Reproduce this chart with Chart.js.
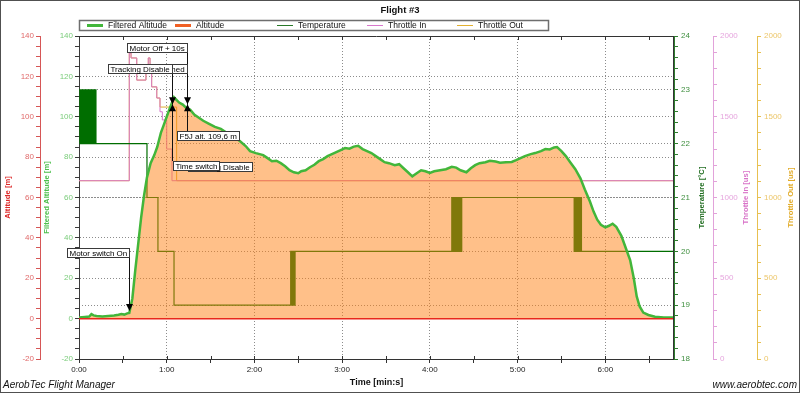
<!DOCTYPE html>
<html>
<head>
<meta charset="utf-8">
<title>Flight #3</title>
<script src="https://cdn.jsdelivr.net/npm/chart.js@4.4.1/dist/chart.umd.min.js"></script>
<style>
  html, body { margin: 0; padding: 0; background: #fff; }
</style>
</head>
<body>
<canvas id="flightChart" width="800" height="393"></canvas>
<script>
// ---- flight log data (time in seconds) ----
const faltTimes = [0, 4, 7, 8.5, 10, 12, 16, 20, 24, 27, 29, 31, 33, 34.4, 36.5, 38.5, 40.5, 42.5, 44.5, 46.5,
  49, 51.5, 53.5, 56, 58, 60, 62, 63.6, 65, 66.5, 68.5, 71, 73.9, 76, 79, 82, 85, 89, 93, 97,
  101, 105, 110, 114, 117, 121, 126, 129, 132, 135, 138, 141, 144, 147, 150, 152, 155, 158, 161, 164,
  167, 170, 173, 176, 179, 182, 185, 188, 191, 194, 197, 200, 203, 206, 209, 212, 216, 219, 222, 225,
  228, 231, 234, 237, 240, 243, 247, 251, 255, 258, 261, 265, 268, 271, 274, 278, 281, 285, 288, 292,
  296, 299, 302, 305, 309, 312, 316, 319, 322, 325, 327, 330, 333, 336, 339.5, 343, 346, 349.5, 352, 354.5,
  357, 360, 362.5, 365, 367.5, 371, 374, 377, 379.5, 381.5, 383.5, 386, 389.5, 394, 400, 407];
const faltValues = [0.5, 0.8, 1.0, 2.2, 1.6, 1.3, 1.1, 1.3, 1.5, 1.9, 2.3, 2.0, 2.6, 2.8, 10, 24, 37, 50, 61, 70,
  77, 81, 85, 92, 96, 100, 104, 107, 109.6, 108.5, 107, 106, 104, 103.5, 101, 99.5, 98, 96.5, 95, 94,
  92, 90.5, 88, 85.5, 83, 82, 81, 79.5, 78, 78.2, 77, 75.5, 73.5, 72.5, 72, 73, 73.5, 75, 76.2, 78,
  79, 80.5, 81.5, 82.5, 83.5, 84.5, 84.2, 85.2, 85.6, 84, 83, 82, 80.5, 79, 77.5, 77, 76, 76.5, 74.5, 72.5,
  70.5, 72, 73.5, 73, 72.2, 73, 73.5, 74, 75.2, 74.8, 73.5, 72.5, 74.5, 76, 77, 77.5, 78.2, 77.8, 77.2, 77.5,
  77.6, 78.5, 79.5, 80.5, 81.5, 82, 83, 84, 83.8, 84.8, 85, 83, 80.5, 77.5, 74, 69.5, 64, 58, 53, 49,
  46.5, 45.2, 46, 47, 45.5, 41, 35, 29, 20, 11, 6, 3, 1.8, 0.9, 0.6, 0.5];

const altTimes = [0, 407];
const altValues = [0, 0];

const tempTimes = [0, 0.6, 1.1, 1.7, 2.2, 2.8, 3.3, 3.9, 4.4, 5.0, 5.5, 6.1, 6.6, 7.2, 7.7, 8.3, 8.8, 9.4, 9.9, 10.5, 11.0, 11.6,
  46.5, 54, 65,
  144.8, 145.3, 145.8, 146.3, 146.8, 147.3, 147.8, 148.2,
  255, 255.5, 256, 256.5, 257, 257.5, 258, 258.5, 259, 259.5, 260, 260.5, 261, 261.4, 261.8,
  338.7, 339.2, 339.7, 340.2, 340.7, 341.2, 341.7, 342.2, 342.7, 343.2, 343.7, 344.2,
  407];
const tempValues = [23, 22, 23, 22, 23, 22, 23, 22, 23, 22, 23, 22, 23, 22, 23, 22, 23, 22, 23, 22, 23, 22,
  21, 20, 19,
  20, 19, 20, 19, 20, 19, 20, 20,
  21, 20, 21, 20, 21, 20, 21, 20, 21, 20, 21, 20, 21, 20, 21,
  20, 21, 20, 21, 20, 21, 20, 21, 20, 21, 20, 20,
  20];

const thrInTimes = [0, 34.4, 35.6, 39.5, 45.8, 47.4, 48.6, 49.7, 53.2, 55.4, 57, 60, 63.6, 407];
const thrInValues = [1104, 1895, 1864, 1727, 1771, 1864, 1771, 1685, 1616, 1531, 1480, 1300, 1104, 1104];

const thrOutTimes = [0, 34.4, 35.6, 39.5, 45.8, 47.4, 48.6, 49.7, 53.2, 55.4, 66.8, 407];
const thrOutValues = [1104, 1895, 1864, 1727, 1771, 1864, 1771, 1685, 1616, 1560, 1104, 1104];

const seriesNames = ['Filtered Altitude', 'Altitude', 'Temperature', 'Throttle In', 'Throttle Out'];

const timeRange = [0, 407];
const altRange = [-20, 140];
const tempRange = [18, 24];
const throttleRange = [0, 2000];

// flight events and the flags hung on them
const motorOnTime = 34.4;
const f5jAltitude = 109.6;
const eventTimes = [34.4, 73.9, 63.6, 73.9, 73.9, 73.9, 63.6];
const eventLabels = ['Motor switch On', 'Tracking Armed', 'Tracking Disable', 'Motor Off + 10s',
  'Tracking Disable', 'F5J alt. 109,6 m', 'Time switch'];
const markerTimes = [63.6, 73.9];

// ---- styling ----
const FONT = "'Liberation Sans', Arial, sans-serif";
Chart.defaults.font.family = FONT;

const pts = (xs, ys) => xs.map((x, i) => ({ x: x, y: ys[i] }));
const mmss = (v) => Math.floor(v / 60) + ':' + String(v % 60).padStart(2, '0');
const isWhole = (v, step) => Math.abs(v / step - Math.round(v / step)) < 1e-6;

// where each flag box sits (pixels), same order as eventLabels
const flagLayout = [
  { side: 'left', top: 248, shift: 0, line: true },
  { side: 'left', top: 64, shift: 0, line: true },
  { side: 'left', top: 64, shift: 0, line: true },
  { side: 'left', top: 43, shift: 0, line: true },
  { side: 'right', top: 162, shift: 0, line: false },
  { side: 'right', top: 131, shift: -11, line: true },
  { side: 'right', top: 161, shift: 0, line: true }
];

const legendX = [87, 175, 277, 367, 457];

function yAxis(opts) {
  return {
    type: 'linear',
    position: opts.position,
    weight: opts.weight,
    min: opts.range[0],
    max: opts.range[1],
    ticks: {
      stepSize: opts.minor,
      autoSkip: false,
      color: opts.labelColor,
      font: { size: 8 },
      padding: opts.padding,
      callback: (v) => isWhole(v, opts.major) ? v : ''
    },
    grid: {
      drawOnChartArea: !!opts.gridEvery,
      color: (c) => (opts.gridEvery && c.tick && isWhole(c.tick.value, opts.gridEvery) &&
        c.tick.value > opts.range[0] && c.tick.value < opts.range[1]) ? '#8c8c8c' : 'rgba(0,0,0,0)',
      tickColor: opts.axisColor,
      tickLength: 4
    },
    border: { color: opts.axisColor, dash: [1, 2] },
    afterFit: (s) => { s.width = opts.width; }
  };
}

function drawFlag(ctx, text, lineX, lay) {
  ctx.font = '8px ' + FONT;
  const w = Math.ceil(ctx.measureText(text).width) + 5;
  const h = 10;
  const left = Math.round(lay.side === 'left' ? lineX - w : lineX) + lay.shift;
  ctx.fillStyle = '#fff';
  ctx.fillRect(left, lay.top, w, h);
  ctx.strokeStyle = '#3a3a3a';
  ctx.lineWidth = 1;
  ctx.strokeRect(left + 0.5, lay.top + 0.5, w - 1, h - 1);
  ctx.fillStyle = '#000';
  ctx.textAlign = 'left';
  ctx.textBaseline = 'middle';
  ctx.fillText(text, left + 2.5, lay.top + h / 2 + 0.5);
}

const flightDecor = {
  id: 'flightDecor',
  beforeDraw(chart) {
    const ctx = chart.ctx;
    ctx.save();
    ctx.fillStyle = '#fff';
    ctx.fillRect(0, 0, chart.width, chart.height);
    ctx.restore();
  },
  afterDraw(chart) {
    const { ctx, chartArea: a, scales } = chart;
    const x = scales.x;
    ctx.save();

    // plot frame with inner ticks
    ctx.strokeStyle = '#333';
    ctx.lineWidth = 1;
    ctx.beginPath();
    ctx.moveTo(a.left, a.top + 0.5); ctx.lineTo(a.right, a.top + 0.5);
    ctx.moveTo(a.right - 0.5, a.top); ctx.lineTo(a.right - 0.5, a.bottom);
    x.ticks.forEach((t) => {
      const px = Math.round(x.getPixelForValue(t.value)) + 0.5;
      ctx.moveTo(px, a.top); ctx.lineTo(px, a.top + 4);
      ctx.moveTo(px, a.bottom); ctx.lineTo(px, a.bottom - 3);
    });
    ctx.stroke();

    // title
    ctx.fillStyle = '#111';
    ctx.textAlign = 'center';
    ctx.textBaseline = 'middle';
    ctx.font = 'bold 9.5px ' + FONT;
    ctx.fillText('Flight #3', 400, 10);

    // legend
    ctx.fillStyle = '#fff';
    ctx.fillRect(79, 20, 470, 11);
    ctx.strokeStyle = '#6e6e6e';
    ctx.lineWidth = 1.5;
    ctx.strokeRect(79.5, 20.5, 469, 10);
    ctx.font = '8.5px ' + FONT;
    ctx.textAlign = 'left';
    chart.data.datasets.forEach((ds, i) => {
      const sx = legendX[i];
      ctx.strokeStyle = ds.legendColor || ds.borderColor;
      ctx.lineWidth = ds.legendWidth;
      ctx.beginPath();
      ctx.moveTo(sx, 25.5); ctx.lineTo(sx + 16, 25.5);
      ctx.stroke();
      ctx.fillStyle = '#111';
      ctx.fillText(ds.label, sx + 21, 26);
    });

    // axis titles, rotated, reading bottom to top
    const midY = (a.top + a.bottom) / 2;
    [['alt', 'Altitude [m]', '#dd2a2a', 8],
     ['falt', 'Filtered Altitude [m]', '#4cbf4c', 7],
     ['temp', 'Temperature [\u00b0C]', '#236f23', 28],
     ['thrIn', 'Throttle In [us]', '#d872c8', 33],
     ['thrOut', 'Throttle Out [us]', '#e2ac2a', 34]].forEach(([id, text, color, off]) => {
      ctx.save();
      ctx.translate(scales[id].left + off, midY);
      ctx.rotate(-Math.PI / 2);
      ctx.font = 'bold 7.7px ' + FONT;
      ctx.fillStyle = color;
      ctx.textAlign = 'center';
      ctx.textBaseline = 'middle';
      ctx.fillText(text, 0, 0);
      ctx.restore();
    });

    // x title and footer
    ctx.fillStyle = '#111';
    ctx.textAlign = 'center';
    ctx.font = 'bold 9px ' + FONT;
    ctx.fillText('Time [min:s]', (a.left + a.right) / 2, 383);
    ctx.font = 'italic 10px ' + FONT;
    ctx.textAlign = 'left';
    ctx.fillText('AerobTec Flight Manager', 3, 385);
    ctx.textAlign = 'right';
    ctx.fillText('www.aerobtec.com', 797, 385);

    // event lines, markers and flags
    const fy = scales.falt;
    const f5jTop = fy.getPixelForValue(f5jAltitude);
    const onIdx = faltTimes.indexOf(motorOnTime);
    const onTip = fy.getPixelForValue(faltValues[onIdx]) - 2;
    const markerY = (t) => t === motorOnTime ? onTip - 4 : f5jTop + 7;

    ctx.strokeStyle = '#111';
    ctx.lineWidth = 1;
    ctx.beginPath();
    eventTimes.forEach((t, i) => {
      const lay = flagLayout[i];
      if (!lay.line) return;
      const lx = Math.round(x.getPixelForValue(t)) + 0.5;
      const my = markerY(t);
      const edge = lay.top < my ? lay.top + 10 : lay.top;
      ctx.moveTo(lx, edge); ctx.lineTo(lx, my);
    });
    ctx.stroke();

    ctx.fillStyle = '#000';
    const tri = (cx, y0, y1) => {
      ctx.beginPath();
      ctx.moveTo(cx - 3.5, y0); ctx.lineTo(cx + 3.5, y0); ctx.lineTo(cx, y1);
      ctx.closePath(); ctx.fill();
    };
    tri(Math.round(x.getPixelForValue(motorOnTime)) + 0.5, onTip - 7, onTip);
    markerTimes.forEach((t) => {
      const cx = Math.round(x.getPixelForValue(t)) + 0.5;
      tri(cx, f5jTop, f5jTop + 7);
      tri(cx, f5jTop + 14, f5jTop + 7);
    });

    eventLabels.forEach((text, i) => {
      drawFlag(ctx, text, Math.round(x.getPixelForValue(eventTimes[i])) + 1, flagLayout[i]);
    });

    // outer border
    ctx.strokeStyle = '#505050';
    ctx.lineWidth = 1;
    ctx.strokeRect(0.5, 0.5, chart.width - 1, chart.height - 1);
    ctx.restore();
  }
};

const ctx = document.getElementById('flightChart').getContext('2d');
new Chart(ctx, {
  type: 'line',
  data: {
    datasets: [
      {
        label: seriesNames[0],
        data: pts(faltTimes, faltValues),
        yAxisID: 'falt',
        borderColor: 'rgb(66, 182, 58)',
        borderWidth: 2.5,
        backgroundColor: 'rgba(255, 130, 20, 0.5)',
        fill: 'origin',
        legendWidth: 3,
        order: 0
      },
      {
        label: seriesNames[1],
        data: pts(altTimes, altValues),
        yAxisID: 'alt',
        borderColor: 'rgb(232, 40, 28)',
        legendColor: 'rgb(240, 96, 36)',
        borderWidth: 1.5,
        legendWidth: 3,
        order: -1
      },
      {
        label: seriesNames[2],
        data: pts(tempTimes, tempValues),
        yAxisID: 'temp',
        borderColor: 'rgb(0, 110, 0)',
        legendColor: 'rgb(40, 120, 40)',
        borderWidth: 1.2,
        stepped: 'before',
        legendWidth: 1,
        order: 1
      },
      {
        label: seriesNames[3],
        data: pts(thrInTimes, thrInValues),
        yAxisID: 'thrIn',
        borderColor: 'rgb(216, 120, 204)',
        borderWidth: 1,
        stepped: 'before',
        legendWidth: 1,
        order: 2
      },
      {
        label: seriesNames[4],
        data: pts(thrOutTimes, thrOutValues),
        yAxisID: 'thrOut',
        borderColor: 'rgb(226, 176, 48)',
        borderWidth: 1,
        stepped: 'before',
        legendWidth: 1,
        order: 3
      }
    ]
  },
  options: {
    responsive: false,
    animation: false,
    events: [],
    layout: { padding: { top: 36, left: 0, right: 0, bottom: 0 } },
    elements: { point: { radius: 0 }, line: { tension: 0 } },
    plugins: {
      legend: { display: false },
      title: { display: false },
      tooltip: { enabled: false }
    },
    scales: {
      x: {
        type: 'linear',
        position: 'bottom',
        min: timeRange[0],
        max: timeRange[1],
        ticks: {
          stepSize: 30,
          includeBounds: false,
          autoSkip: false,
          maxRotation: 0,
          color: '#222',
          font: { size: 8 },
          padding: 2,
          callback: (v) => isWhole(v, 60) ? mmss(v) : ''
        },
        grid: {
          color: (c) => (c.tick && isWhole(c.tick.value, 60) && c.tick.value > 0) ? '#8c8c8c' : 'rgba(0,0,0,0)',
          tickColor: '#333',
          tickLength: 4
        },
        border: { color: '#333', dash: [1, 2] },
        afterFit: (s) => { s.height = 34; }
      },
      alt: yAxis({ position: 'left', weight: 1, range: altRange, minor: 5, major: 20, width: 40, padding: 2,
        labelColor: '#e06a6a', axisColor: '#d65656' }),
      falt: yAxis({ position: 'left', weight: 0, range: altRange, minor: 5, major: 20, width: 39, padding: 2,
        labelColor: '#7acc7a', axisColor: '#3a3a3a', gridEvery: 20 }),
      temp: yAxis({ position: 'right', weight: 0, range: tempRange, minor: 0.2, major: 1, width: 39, padding: 3,
        labelColor: '#3f8f3f', axisColor: '#2e7d2e', gridEvery: 1 }),
      thrIn: yAxis({ position: 'right', weight: 1, range: throttleRange, minor: 100, major: 500, width: 44, padding: 3,
        labelColor: '#e6a6de', axisColor: '#e2a2da' }),
      thrOut: yAxis({ position: 'right', weight: 2, range: throttleRange, minor: 100, major: 500, width: 43, padding: 3,
        labelColor: '#ecc66a', axisColor: '#e8c050' })
    }
  },
  plugins: [flightDecor]
});
</script>
</body>
</html>
